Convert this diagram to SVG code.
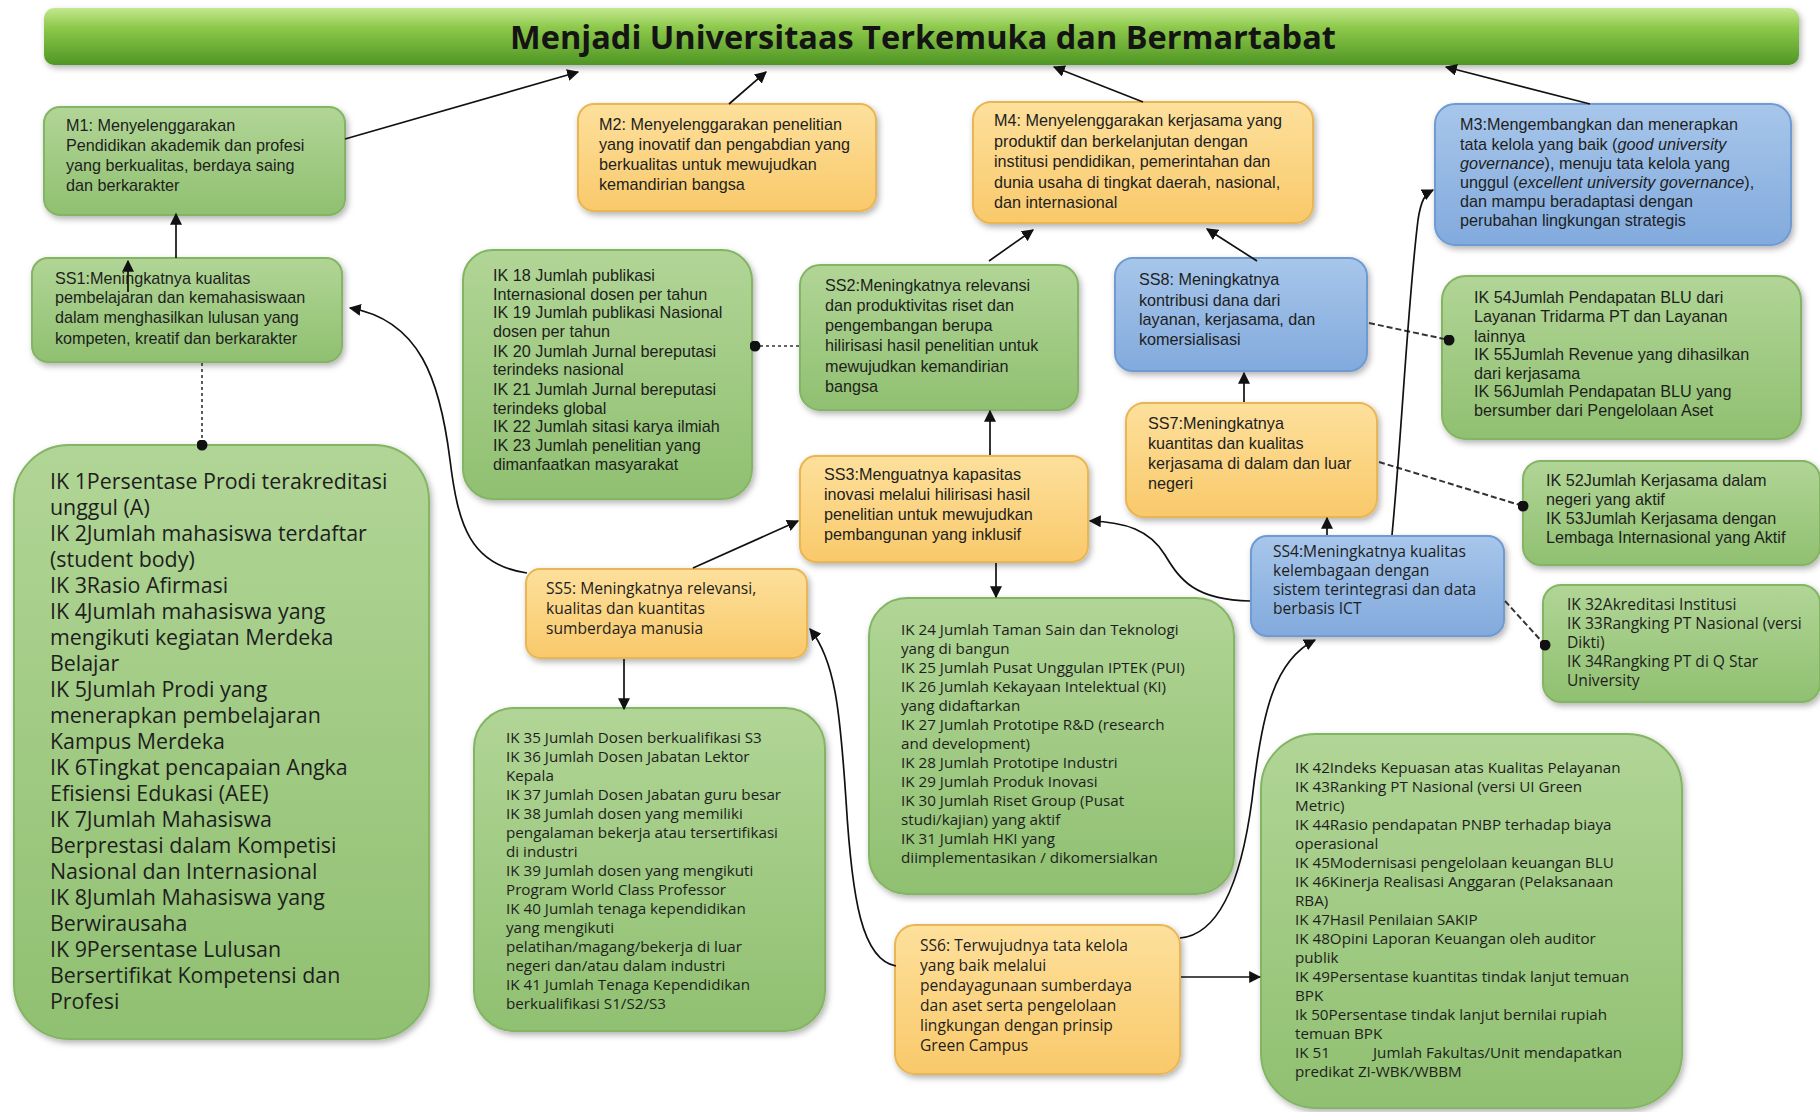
<svg xmlns="http://www.w3.org/2000/svg" width="1820" height="1112" viewBox="0 0 1820 1112">
<defs>
<linearGradient id="gBar" x1="0" y1="0" x2="0" y2="1">
<stop offset="0" stop-color="#c4e88e"/><stop offset="0.35" stop-color="#8cc84a"/><stop offset="1" stop-color="#4f9624"/>
</linearGradient>
<linearGradient id="gGreen" x1="0" y1="0" x2="0" y2="1">
<stop offset="0" stop-color="#b1d596"/><stop offset="1" stop-color="#90c071"/>
</linearGradient>
<linearGradient id="gOrange" x1="0" y1="0" x2="0" y2="1">
<stop offset="0" stop-color="#fde09c"/><stop offset="1" stop-color="#f9c96a"/>
</linearGradient>
<linearGradient id="gBlue" x1="0" y1="0" x2="0" y2="1">
<stop offset="0" stop-color="#a7c6ea"/><stop offset="1" stop-color="#82aadd"/>
</linearGradient>
<filter id="sh" x="-10%" y="-10%" width="125%" height="125%">
<feDropShadow dx="2" dy="3" stdDeviation="3" flood-color="#000" flood-opacity="0.3"/>
</filter>
<marker id="arr" viewBox="0 0 10 10" refX="9" refY="5" markerWidth="12" markerHeight="12" markerUnits="userSpaceOnUse" orient="auto">
<path d="M0,0 L10,5 L0,10 z" fill="#111"/>
</marker>
<marker id="dot" viewBox="0 0 10 10" refX="5" refY="5" markerWidth="11" markerHeight="11" markerUnits="userSpaceOnUse">
<circle cx="5" cy="5" r="5" fill="#111"/>
</marker>
</defs>
<style>
.green{fill:url(#gGreen);stroke:#84b563;stroke-width:2;filter:url(#sh)}
.orange{fill:url(#gOrange);stroke:#e9b652;stroke-width:2;filter:url(#sh)}
.blue{fill:url(#gBlue);stroke:#6f9bd2;stroke-width:2;filter:url(#sh)}
.tc{font-family:"Liberation Sans",Arial,sans-serif;font-size:16.2px;fill:#1e1e1e}
.ts{font-family:"Open Sans","DejaVu Sans",sans-serif;font-size:15.2px;fill:#1e1e1e}
.tss{font-family:"Open Sans","DejaVu Sans",sans-serif;font-size:15.6px;fill:#1e1e1e}
.tb{font-family:"Open Sans","DejaVu Sans",sans-serif;font-size:21.4px;fill:#1e1e1e}
.title{font-family:"Open Sans","Liberation Sans",sans-serif;font-size:32.5px;font-weight:bold;fill:#141414}
.ln{fill:none;stroke:#111;stroke-width:1.7}
.dl{fill:none;stroke:#333;stroke-width:2;stroke-dasharray:6 3}
.dt{fill:none;stroke:#333;stroke-width:1.6;stroke-dasharray:3 3}
</style>
<rect width="1820" height="1112" fill="#ffffff"/>

<g id="title">
<rect x="44" y="8" width="1755" height="57" rx="10" fill="url(#gBar)" filter="url(#sh)"/>
<text class="title" x="923" y="49" text-anchor="middle">Menjadi Universitaas Terkemuka dan Bermartabat</text>
</g>

<g id="M1">
<rect class="green" x="44" y="107" width="301" height="108" rx="16"/>
<text class="tc"><tspan x="66" y="131">M1: Menyelenggarakan</tspan><tspan x="66" y="151">Pendidikan akademik dan profesi</tspan><tspan x="66" y="171">yang berkualitas, berdaya saing</tspan><tspan x="66" y="191">dan berkarakter</tspan></text>
</g>

<g id="M2">
<rect class="orange" x="578" y="104" width="298" height="107" rx="16"/>
<text class="tc"><tspan x="599" y="130">M2: Menyelenggarakan penelitian</tspan><tspan x="599" y="150">yang inovatif dan pengabdian yang</tspan><tspan x="599" y="170">berkualitas untuk mewujudkan</tspan><tspan x="599" y="190">kemandirian bangsa</tspan></text>
</g>

<g id="M4">
<rect class="orange" x="973" y="102" width="340" height="121" rx="18"/>
<text class="tc"><tspan x="994" y="126">M4: Menyelenggarakan kerjasama yang</tspan><tspan x="994" y="147">produktif dan berkelanjutan dengan</tspan><tspan x="994" y="167">institusi  pendidikan, pemerintahan dan</tspan><tspan x="994" y="188">dunia usaha di tingkat daerah, nasional,</tspan><tspan x="994" y="208">dan internasional</tspan></text>
</g>

<g id="M3">
<rect class="blue" x="1435" y="104" width="356" height="141" rx="20"/>
<text class="tc"><tspan x="1460" y="130">M3:Mengembangkan dan menerapkan</tspan><tspan x="1460" y="150">tata kelola yang baik (<tspan font-style="italic">good university</tspan></tspan><tspan x="1460" y="169"><tspan font-style="italic">governance</tspan>), menuju tata kelola yang</tspan><tspan x="1460" y="188">unggul (<tspan font-style="italic">excellent university governance</tspan>),</tspan><tspan x="1460" y="207">dan mampu beradaptasi dengan</tspan><tspan x="1460" y="226">perubahan lingkungan strategis</tspan></text>
</g>

<g id="SS1">
<rect class="green" x="32" y="258" width="310" height="104" rx="16"/>
<text class="tc"><tspan x="55" y="284">SS1:Meningkatnya kualitas</tspan><tspan x="55" y="303">pembelajaran dan kemahasiswaan</tspan><tspan x="55" y="323">dalam menghasilkan lulusan yang</tspan><tspan x="55" y="344">kompeten, kreatif dan berkarakter</tspan></text>
</g>

<g id="IK18">
<rect class="green" x="463" y="250" width="289" height="249" rx="30"/>
<text class="tc"><tspan x="493" y="281">IK 18 Jumlah publikasi</tspan><tspan x="493" y="300">Internasional dosen per tahun</tspan><tspan x="493" y="318">IK 19 Jumlah publikasi Nasional</tspan><tspan x="493" y="337">dosen per tahun</tspan><tspan x="493" y="357">IK 20 Jumlah Jurnal bereputasi</tspan><tspan x="493" y="375">terindeks nasional</tspan><tspan x="493" y="395">IK 21 Jumlah Jurnal bereputasi</tspan><tspan x="493" y="414">terindeks global</tspan><tspan x="493" y="432">IK 22 Jumlah sitasi karya ilmiah</tspan><tspan x="493" y="451">IK 23 Jumlah penelitian yang</tspan><tspan x="493" y="470">dimanfaatkan masyarakat</tspan></text>
</g>

<g id="SS2">
<rect class="green" x="800" y="265" width="278" height="145" rx="20"/>
<text class="tc"><tspan x="825" y="291">SS2:Meningkatnya relevansi</tspan><tspan x="825" y="311">dan produktivitas riset dan</tspan><tspan x="825" y="331">pengembangan berupa</tspan><tspan x="825" y="351">hilirisasi hasil penelitian untuk</tspan><tspan x="825" y="372">mewujudkan kemandirian</tspan><tspan x="825" y="392">bangsa</tspan></text>
</g>

<g id="SS8">
<rect class="blue" x="1115" y="258" width="252" height="113" rx="18"/>
<text class="tc"><tspan x="1139" y="285">SS8: Meningkatnya</tspan><tspan x="1139" y="306">kontribusi dana dari</tspan><tspan x="1139" y="325">layanan, kerjasama, dan</tspan><tspan x="1139" y="345">komersialisasi</tspan></text>
</g>

<g id="IK54">
<rect class="green" x="1442" y="276" width="359" height="163" rx="24"/>
<text class="tc"><tspan x="1474" y="303">IK 54Jumlah Pendapatan BLU dari</tspan><tspan x="1474" y="322">Layanan Tridarma PT dan Layanan</tspan><tspan x="1474" y="342">lainnya</tspan><tspan x="1474" y="360">IK 55Jumlah Revenue yang dihasilkan</tspan><tspan x="1474" y="379">dari kerjasama</tspan><tspan x="1474" y="397">IK 56Jumlah Pendapatan BLU yang</tspan><tspan x="1474" y="416">bersumber dari Pengelolaan Aset</tspan></text>
</g>

<g id="SS7">
<rect class="orange" x="1126" y="403" width="251" height="114" rx="18"/>
<text class="tc"><tspan x="1148" y="429">SS7:Meningkatnya</tspan><tspan x="1148" y="449">kuantitas dan kualitas</tspan><tspan x="1148" y="469">kerjasama di dalam dan luar</tspan><tspan x="1148" y="489">negeri</tspan></text>
</g>

<g id="IK52">
<rect class="green" x="1523" y="461" width="297" height="104" rx="18"/>
<text class="tc"><tspan x="1546" y="486">IK 52Jumlah Kerjasama dalam</tspan><tspan x="1546" y="505">negeri yang aktif</tspan><tspan x="1546" y="524">IK 53Jumlah Kerjasama dengan</tspan><tspan x="1546" y="543">Lembaga Internasional yang Aktif</tspan></text>
</g>

<g id="SS3">
<rect class="orange" x="800" y="456" width="288" height="106" rx="16"/>
<text class="tc"><tspan x="824" y="480">SS3:Menguatnya kapasitas</tspan><tspan x="824" y="500">inovasi melalui hilirisasi hasil</tspan><tspan x="824" y="520">penelitian untuk mewujudkan</tspan><tspan x="824" y="540">pembangunan yang inklusif</tspan></text>
</g>

<g id="SS4">
<rect class="blue" x="1251" y="536" width="253" height="100" rx="16"/>
<text class="tss"><tspan x="1273" y="557">SS4:Meningkatnya kualitas</tspan><tspan x="1273" y="576">kelembagaan dengan</tspan><tspan x="1273" y="595">sistem terintegrasi dan data</tspan><tspan x="1273" y="614">berbasis ICT</tspan></text>
</g>

<g id="IK32">
<rect class="green" x="1543" y="585" width="277" height="117" rx="18"/>
<text class="tss"><tspan x="1567" y="610">IK 32Akreditasi Institusi</tspan><tspan x="1567" y="629">IK 33Rangking PT Nasional (versi</tspan><tspan x="1567" y="648">Dikti)</tspan><tspan x="1567" y="667">IK 34Rangking PT di Q Star</tspan><tspan x="1567" y="686">University</tspan></text>
</g>

<g id="SS5">
<rect class="orange" x="526" y="569" width="281" height="89" rx="14"/>
<text class="tss"><tspan x="546" y="594">SS5: Meningkatnya relevansi,</tspan><tspan x="546" y="614">kualitas dan kuantitas</tspan><tspan x="546" y="634">sumberdaya manusia</tspan></text>
</g>

<g id="IK1">
<rect class="green" x="14" y="445" width="415" height="594" rx="55"/>
<text class="tb"><tspan x="50" y="489">IK 1Persentase Prodi terakreditasi</tspan><tspan x="50" y="515">unggul (A)</tspan><tspan x="50" y="541">IK 2Jumlah mahasiswa terdaftar</tspan><tspan x="50" y="567">(student body)</tspan><tspan x="50" y="593">IK 3Rasio Afirmasi</tspan><tspan x="50" y="619">IK 4Jumlah mahasiswa yang</tspan><tspan x="50" y="645">mengikuti kegiatan Merdeka</tspan><tspan x="50" y="671">Belajar</tspan><tspan x="50" y="697">IK 5Jumlah Prodi yang</tspan><tspan x="50" y="723">menerapkan pembelajaran</tspan><tspan x="50" y="749">Kampus Merdeka</tspan><tspan x="50" y="775">IK 6Tingkat pencapaian Angka</tspan><tspan x="50" y="801">Efisiensi Edukasi (AEE)</tspan><tspan x="50" y="827">IK 7Jumlah Mahasiswa</tspan><tspan x="50" y="853">Berprestasi dalam Kompetisi</tspan><tspan x="50" y="879">Nasional dan Internasional</tspan><tspan x="50" y="905">IK 8Jumlah Mahasiswa yang</tspan><tspan x="50" y="931">Berwirausaha</tspan><tspan x="50" y="957">IK 9Persentase Lulusan</tspan><tspan x="50" y="983">Bersertifikat Kompetensi dan</tspan><tspan x="50" y="1009">Profesi</tspan></text>
</g>

<g id="IK35">
<rect class="green" x="474" y="708" width="351" height="323" rx="40"/>
<text class="ts"><tspan x="506" y="743">IK 35 Jumlah Dosen berkualifikasi S3</tspan><tspan x="506" y="762">IK 36 Jumlah Dosen Jabatan Lektor</tspan><tspan x="506" y="781">Kepala</tspan><tspan x="506" y="800">IK 37 Jumlah Dosen Jabatan guru besar</tspan><tspan x="506" y="819">IK 38 Jumlah dosen yang memiliki</tspan><tspan x="506" y="838">pengalaman bekerja atau tersertifikasi</tspan><tspan x="506" y="857">di industri</tspan><tspan x="506" y="876">IK 39 Jumlah dosen yang mengikuti</tspan><tspan x="506" y="895">Program World Class Professor</tspan><tspan x="506" y="914">IK 40 Jumlah tenaga kependidikan</tspan><tspan x="506" y="933">yang mengikuti</tspan><tspan x="506" y="952">pelatihan/magang/bekerja di luar</tspan><tspan x="506" y="971">negeri dan/atau dalam industri</tspan><tspan x="506" y="990">IK 41 Jumlah Tenaga Kependidikan</tspan><tspan x="506" y="1009">berkualifikasi S1/S2/S3</tspan></text>
</g>

<g id="IK24">
<rect class="green" x="869" y="598" width="365" height="296" rx="38"/>
<text class="ts"><tspan x="901" y="635">IK 24 Jumlah Taman Sain dan Teknologi</tspan><tspan x="901" y="654">yang di bangun</tspan><tspan x="901" y="673">IK 25 Jumlah Pusat Unggulan IPTEK (PUI)</tspan><tspan x="901" y="692">IK 26 Jumlah Kekayaan Intelektual (KI)</tspan><tspan x="901" y="711">yang didaftarkan</tspan><tspan x="901" y="730">IK 27 Jumlah Prototipe R&amp;D (research</tspan><tspan x="901" y="749">and development)</tspan><tspan x="901" y="768">IK 28 Jumlah Prototipe Industri</tspan><tspan x="901" y="787">IK 29 Jumlah Produk Inovasi</tspan><tspan x="901" y="806">IK 30 Jumlah Riset Group (Pusat</tspan><tspan x="901" y="825">studi/kajian) yang aktif</tspan><tspan x="901" y="844">IK 31 Jumlah HKI yang</tspan><tspan x="901" y="863">diimplementasikan / dikomersialkan</tspan></text>
</g>

<g id="IK42">
<rect class="green" x="1261" y="734" width="421" height="374" rx="55"/>
<text class="ts"><tspan x="1295" y="773">IK 42Indeks Kepuasan atas Kualitas Pelayanan</tspan><tspan x="1295" y="792">IK 43Ranking PT Nasional (versi UI Green</tspan><tspan x="1295" y="811">Metric)</tspan><tspan x="1295" y="830">IK 44Rasio pendapatan PNBP terhadap biaya</tspan><tspan x="1295" y="849">operasional</tspan><tspan x="1295" y="868">IK 45Modernisasi pengelolaan keuangan BLU</tspan><tspan x="1295" y="887">IK 46Kinerja Realisasi Anggaran (Pelaksanaan</tspan><tspan x="1295" y="906">RBA)</tspan><tspan x="1295" y="925">IK 47Hasil Penilaian SAKIP</tspan><tspan x="1295" y="944">IK 48Opini Laporan Keuangan oleh auditor</tspan><tspan x="1295" y="963">publik</tspan><tspan x="1295" y="982">IK 49Persentase kuantitas tindak lanjut temuan</tspan><tspan x="1295" y="1001">BPK</tspan><tspan x="1295" y="1020">Ik 50Persentase tindak lanjut bernilai rupiah</tspan><tspan x="1295" y="1039">temuan BPK</tspan><tspan x="1295" y="1058">IK 51</tspan><tspan x="1373" y="1058">Jumlah Fakultas/Unit mendapatkan</tspan><tspan x="1295" y="1077">predikat ZI-WBK/WBBM</tspan></text>
</g>

<g id="SS6">
<rect class="orange" x="895" y="925" width="285" height="149" rx="20"/>
<text class="tss"><tspan x="920" y="951">SS6: Terwujudnya tata kelola</tspan><tspan x="920" y="971">yang baik melalui</tspan><tspan x="920" y="991">pendayagunaan sumberdaya</tspan><tspan x="920" y="1011">dan aset serta pengelolaan</tspan><tspan x="920" y="1031">lingkungan dengan prinsip</tspan><tspan x="920" y="1051">Green Campus</tspan></text>
</g>

<g id="connectors">
<line class="ln" x1="345" y1="139" x2="578" y2="72" marker-end="url(#arr)"/>
<line class="ln" x1="729" y1="104" x2="766" y2="72" marker-end="url(#arr)"/>
<line class="ln" x1="1143" y1="102" x2="1054" y2="67" marker-end="url(#arr)"/>
<line class="ln" x1="1590" y1="104" x2="1446" y2="67" marker-end="url(#arr)"/>
<line class="ln" x1="176" y1="258" x2="176" y2="214" marker-end="url(#arr)"/>
<line class="ln" x1="128" y1="292" x2="128" y2="261" marker-end="url(#arr)"/>
<line class="dt" x1="202" y1="363" x2="202" y2="445" marker-end="url(#dot)"/>
<line class="ln" x1="989" y1="261" x2="1033" y2="230" marker-end="url(#arr)"/>
<line class="ln" x1="1257" y1="261" x2="1207" y2="229" marker-end="url(#arr)"/>
<line class="dt" x1="799" y1="346" x2="755" y2="346" marker-end="url(#dot)"/>
<line class="dl" x1="1369" y1="323" x2="1449" y2="340" marker-end="url(#dot)"/>
<line class="ln" x1="990" y1="455" x2="990" y2="411" marker-end="url(#arr)"/>
<line class="ln" x1="1244" y1="402" x2="1244" y2="373" marker-end="url(#arr)"/>
<line class="dl" x1="1379" y1="462" x2="1523" y2="506" marker-end="url(#dot)"/>
<line class="ln" x1="1327" y1="535" x2="1327" y2="518" marker-end="url(#arr)"/>
<path class="ln" d="M1392,535 C1402,430 1408,300 1418,220 C1421,200 1425,194 1433,190" marker-end="url(#arr)"/>
<path class="ln" d="M1250,601 C1195,600 1180,580 1165,555 C1150,530 1125,522 1090,521" marker-end="url(#arr)"/>
<line class="ln" x1="996" y1="563" x2="996" y2="597" marker-end="url(#arr)"/>
<line class="ln" x1="693" y1="568" x2="798" y2="521" marker-end="url(#arr)"/>
<path class="ln" d="M527,573 C470,565 458,525 450,460 C440,380 420,320 350,308" marker-end="url(#arr)"/>
<line class="ln" x1="624" y1="659" x2="624" y2="709" marker-end="url(#arr)"/>
<path class="ln" d="M896,966 C862,960 852,900 846,800 C840,710 835,660 810,629" marker-end="url(#arr)"/>
<path class="ln" d="M1180,938 C1215,935 1240,890 1252,800 C1262,710 1275,660 1315,640" marker-end="url(#arr)"/>
<line class="ln" x1="1181" y1="977" x2="1260" y2="977" marker-end="url(#arr)"/>
<line class="dl" x1="1505" y1="601" x2="1545" y2="645" marker-end="url(#dot)"/>
</g>
</svg>
